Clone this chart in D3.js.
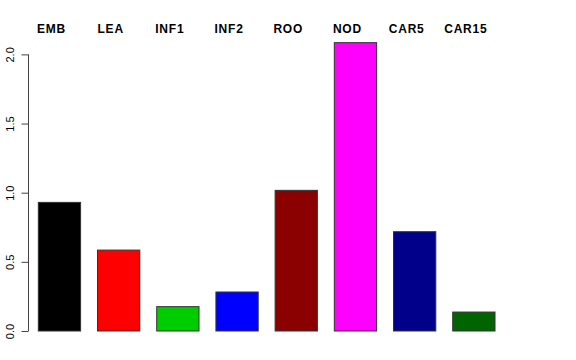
<!DOCTYPE html>
<html>
<head>
<meta charset="utf-8">
<script src="https://cdn.jsdelivr.net/npm/d3@7"></script>
<style>
  body { margin: 0; background: #fff; }
  text { font-family: "Liberation Sans", Arial, sans-serif; }
</style>
</head>
<body>
<svg id="chart" width="576" height="360"></svg>
<script>
(function () {

// tissue categories and their values
var categories = ['EMB', 'LEA', 'INF1', 'INF2', 'ROO', 'NOD', 'CAR5', 'CAR15'];
var values = [0.93, 0.585, 0.176, 0.282, 1.017, 2.085, 0.718, 0.137];
var colors = ['#000000', '#FF0000', '#00CD00', '#0000FF', '#8B0000', '#FF00FF', '#00008B', '#006400'];
var yTicks = [0, 0.5, 1, 1.5, 2];

var svg = d3.select('#chart');

// barplot(space = 0.4): each slot is 1.4 bar widths
var x = d3.scaleLinear()
	.domain([0, categories.length * 1.4])
	.range([21.4, 21.4 + categories.length * 59.2]);

var y = d3.scaleLinear()
	.domain([0, 2])
	.range([331, 54.4]);

var barW = x(1) - x(0);

svg.selectAll('.bar').data(values)
	.enter().append('rect')
	.attr('class', 'bar')
	.attr('x', function (d, i) { return x(0.4 + i * 1.4); })
	.attr('y', function (d) { return y(d); })
	.attr('width', barW)
	.attr('height', function (d) { return y(0) - y(d); })
	.attr('fill', function (d, i) { return colors[i]; })
	.attr('stroke', '#333')
	.attr('stroke-width', 1);

// labels over the bars, slightly left of centre like the source
svg.selectAll('.lab').data(categories)
	.enter().append('text')
	.attr('class', 'lab')
	.attr('x', function (d, i) { return x(0.9 + i * 1.4) - 8; })
	.attr('y', 32.5)
	.attr('text-anchor', 'middle')
	.attr('font-size', '12px')
	.attr('font-weight', 'bold')
	.attr('letter-spacing', '0.8px')
	.text(function (d) { return d; });

// left axis
var yAxis = d3.axisLeft(y)
	.tickValues(yTicks)
	.tickSize(7)
	.tickFormat(d3.format('.1f'));

var g = svg.append('g')
	.attr('transform', 'translate(28.5,0)')
	.call(yAxis);

g.select('.domain').attr('d', 'M0,' + y(0) + 'V' + y(2)).attr('stroke', '#444');
g.selectAll('.tick line').attr('stroke', '#444');
g.selectAll('.tick text')
	.attr('font-family', '"Liberation Sans", Arial, sans-serif')
	.attr('font-size', '11px')
	.attr('fill', '#000')
	.attr('text-anchor', 'middle')
	.attr('transform', 'rotate(-90)')
	.attr('x', 0)
	.attr('y', -15)
	.attr('dy', 0);

})();
</script>
</body>
</html>
